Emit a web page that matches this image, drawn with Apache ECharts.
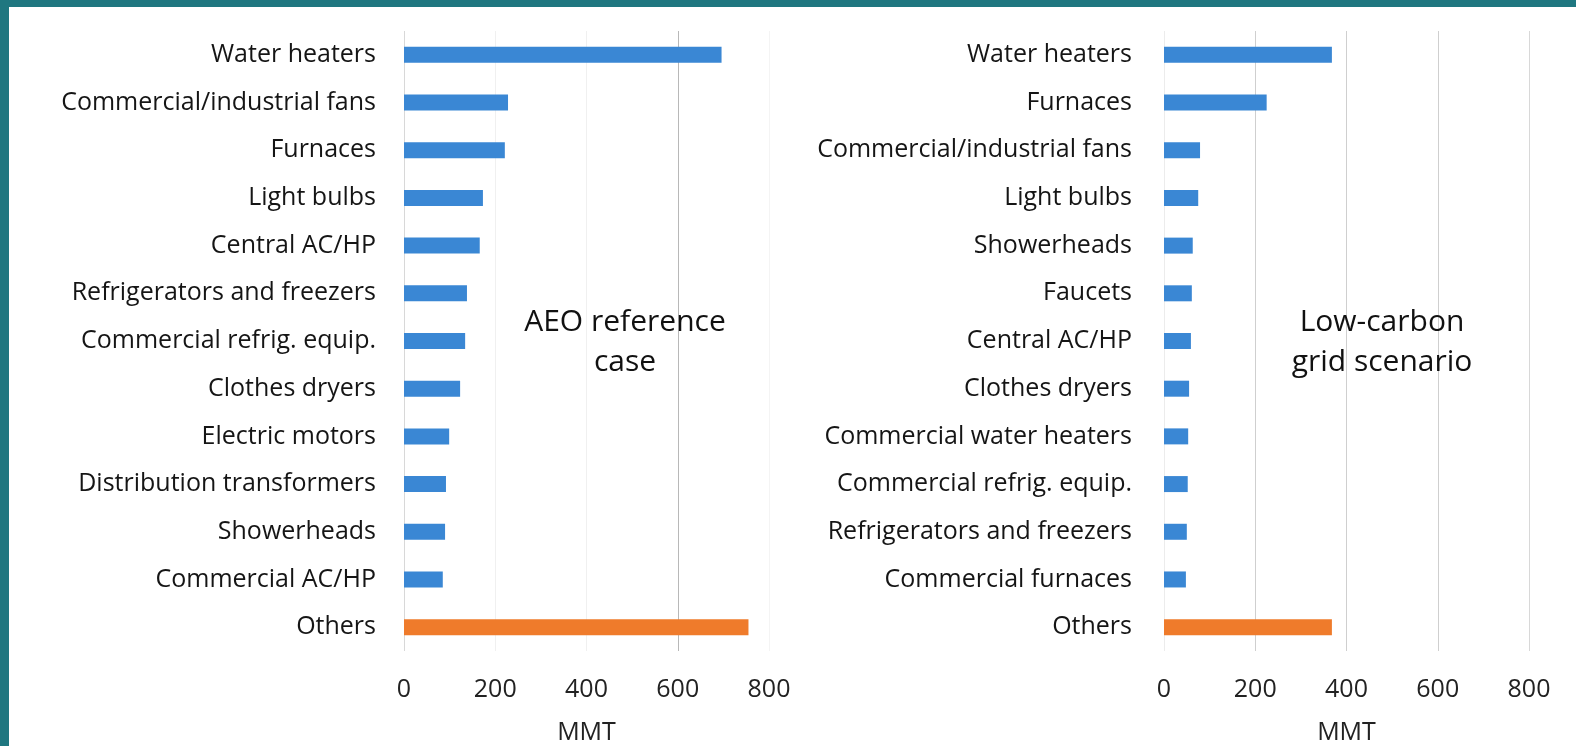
<!DOCTYPE html>
<html>
<head>
<meta charset="utf-8">
<script src="https://cdn.jsdelivr.net/npm/echarts@6/dist/echarts.min.js"></script>
<style>
html, body { margin: 0; padding: 0; background: #fff; }
#chart { width: 1576px; height: 746px; }
</style>
</head>
<body>
<div id="chart"></div>
<script>
// AEO reference case
const refCategories = ['Water heaters', 'Commercial/industrial fans', 'Furnaces', 'Light bulbs',
  'Central AC/HP', 'Refrigerators and freezers', 'Commercial refrig. equip.', 'Clothes dryers',
  'Electric motors', 'Distribution transformers', 'Showerheads', 'Commercial AC/HP', 'Others'];
const refValues = [696, 228, 221, 173, 166, 138, 134, 123, 99, 92, 90, 85, 755];

// Low-carbon grid scenario
const lowCategories = ['Water heaters', 'Furnaces', 'Commercial/industrial fans', 'Light bulbs',
  'Showerheads', 'Faucets', 'Central AC/HP', 'Clothes dryers', 'Commercial water heaters',
  'Commercial refrig. equip.', 'Refrigerators and freezers', 'Commercial furnaces', 'Others'];
const lowValues = [368, 225, 79, 75, 63, 61, 59, 55, 53, 52, 50, 48, 368];

const xTicks = [0, 200, 400, 600, 800];

const blue = '#3a87d4';
const orange = '#ef7b2b';
const font = '"Open Sans", "Noto Sans", sans-serif';

function barData(cats, vals) {
  return vals.map(function (v, i) {
    return {
      value: v,
      itemStyle: { color: cats[i] === 'Others' ? orange : blue }
    };
  });
}

function xAxisFor(gridIndex, lineColors) {
  return {
    type: 'value',
    gridIndex: gridIndex,
    min: xTicks[0],
    max: xTicks[xTicks.length - 1],
    interval: 200,
    name: 'MMT',
    nameLocation: 'middle',
    nameGap: 69,
    nameTextStyle: { fontFamily: font, fontSize: 25, color: '#222' },
    axisLine: { show: false },
    axisTick: { show: false },
    axisLabel: { margin: 26, fontFamily: font, fontSize: 25, color: '#222' },
    splitLine: { show: true, lineStyle: { color: lineColors, width: 1 } }
  };
}

function yAxisFor(gridIndex, cats, margin) {
  return {
    type: 'category',
    gridIndex: gridIndex,
    data: cats,
    inverse: true,
    axisLine: { show: false },
    axisTick: { show: false },
    axisLabel: { margin: margin, fontFamily: font, fontSize: 25, color: '#151515' }
  };
}

const chart = echarts.init(document.getElementById('chart'));
const option = {
  backgroundColor: '#fff',
  animation: false,
  grid: [
    { left: 404, top: 31, width: 365, height: 620, outerBoundsMode: 'none' },
    { left: 1164, top: 31, width: 365, height: 620, outerBoundsMode: 'none' }
  ],
  xAxis: [
    xAxisFor(0, ['#d8d8d8', '#f0f0f0', '#f0f0f0', '#b8b8b8', '#f4f4f4']),
    xAxisFor(1, ['#ececec', '#cfcfcf', '#cfcfcf', '#cfcfcf', '#d8d8d8'])
  ],
  yAxis: [
    yAxisFor(0, refCategories, 28),
    yAxisFor(1, lowCategories, 32)
  ],
  series: [
    { type: 'bar', xAxisIndex: 0, yAxisIndex: 0, barWidth: 16, data: barData(refCategories, refValues) },
    { type: 'bar', xAxisIndex: 1, yAxisIndex: 1, barWidth: 16, data: barData(lowCategories, lowValues) }
  ],
  graphic: [
    { type: 'rect', x: 0, y: 0, shape: { width: 1576, height: 7 }, style: { fill: '#1f7780' }, z: 100 },
    { type: 'rect', x: 0, y: 0, shape: { width: 9, height: 746 }, style: { fill: '#1f7780' }, z: 100 },
    {
      type: 'text', x: 625, y: 342, z: 50,
      style: {
        text: 'AEO reference\ncase', fill: '#111', fontFamily: font, fontSize: 30,
        lineHeight: 40, align: 'center', verticalAlign: 'middle'
      }
    },
    {
      type: 'text', x: 1382, y: 342, z: 50,
      style: {
        text: 'Low-carbon\ngrid scenario', fill: '#111', fontFamily: font, fontSize: 30,
        lineHeight: 40, align: 'center', verticalAlign: 'middle'
      }
    }
  ]
};
chart.setOption(option);
</script>
</body>
</html>
